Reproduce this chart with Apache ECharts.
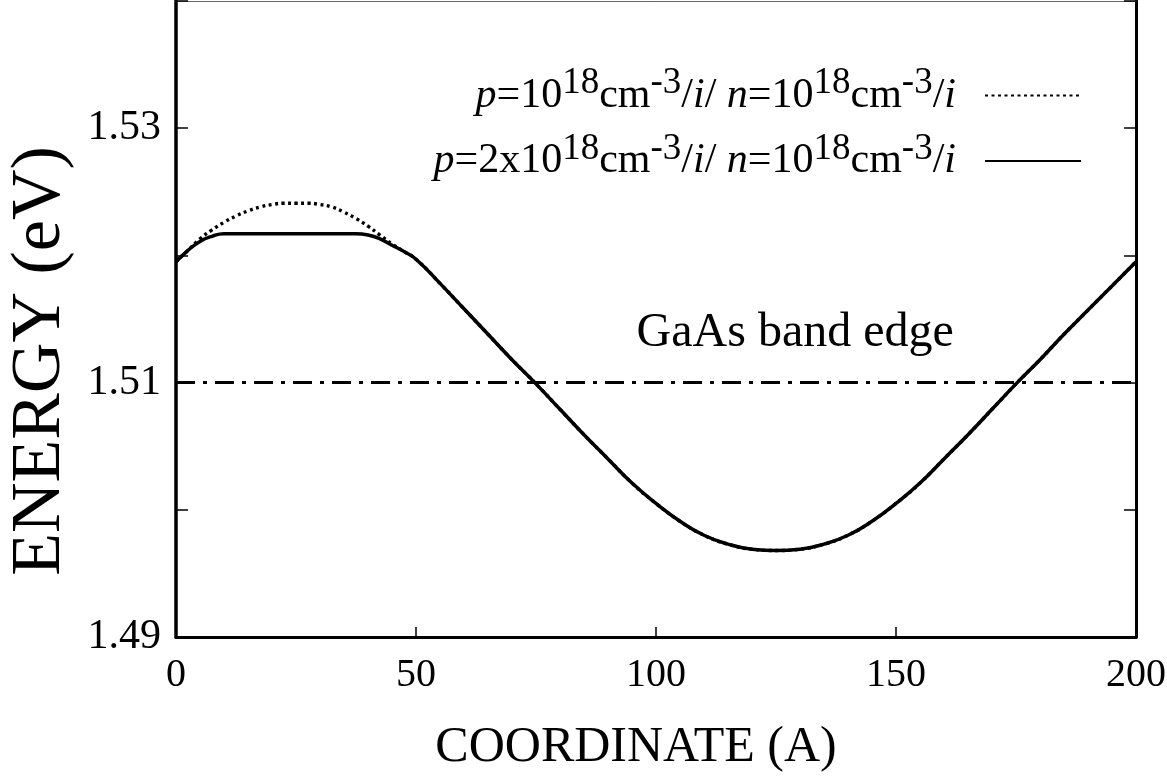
<!DOCTYPE html>
<html>
<head>
<meta charset="utf-8">
<script src="https://cdn.jsdelivr.net/npm/echarts@6/dist/echarts.min.js"></script>
<style>
html,body{margin:0;padding:0;background:#fff;}
#chart{width:1167px;height:780px;}
</style>
</head>
<body>
<div id="chart"></div>
<script>
// ---- data ----
const xTicks = [0, 50, 100, 150, 200];
const yTickLabels = ['1.49', '1.51', '1.53'];

const xLow = [0, 2.5, 5, 7.5, 10, 12.5, 15, 17.5, 20, 22.5, 25, 27.5, 30, 32.5, 35, 37.5, 40, 42.5, 45, 47.5];
const dottedLow = [1.5195, 1.5204, 1.5213, 1.5220, 1.5226, 1.5231, 1.5235, 1.5238, 1.5240, 1.5241, 1.5241, 1.5241, 1.5240, 1.5238, 1.5234, 1.5229, 1.5223, 1.5216, 1.5209, 1.5203];
const solidLow  = [1.5195, 1.5204, 1.5211, 1.5215, 1.5217, 1.5217, 1.5217, 1.5217, 1.5217, 1.5217, 1.5217, 1.5217, 1.5217, 1.5217, 1.5217, 1.5217, 1.5216, 1.5213, 1.5208, 1.5203];

const xHigh = [50, 55, 60, 65, 70, 75, 80, 85, 90, 95, 100, 105, 110, 115, 120, 125, 130, 135, 140, 145, 150, 155, 160, 165, 170, 175, 180, 185, 190, 195, 200];
const sharedHigh = [1.5197, 1.5178, 1.5158, 1.5138, 1.5118, 1.5099, 1.5079, 1.5059, 1.5040, 1.5021, 1.5005, 1.4991, 1.4980, 1.4973, 1.4969, 1.4968, 1.4969, 1.4973, 1.4980, 1.4991, 1.5005, 1.5021, 1.5040, 1.5059, 1.5079, 1.5099, 1.5118, 1.5138, 1.5157, 1.5176, 1.5195];

const bandEdgeX = [0, 200];
const bandEdgeY = [1.51, 1.51];

const seriesNames = ['p=1e18/i/n=1e18/i', 'p=2e18/i/n=1e18/i'];
const legendRich = {
  'p=1e18/i/n=1e18/i': '{it|p}{n|=10}{sup|18}{n|cm}{sup|-3}{n|/}{it|i}{n|/ }{it|n}{n|=10}{sup|18}{n|cm}{sup|-3}{n|/}{it|i}',
  'p=2e18/i/n=1e18/i': '{it|p}{n|=2x10}{sup|18}{n|cm}{sup|-3}{n|/}{it|i}{n|/ }{it|n}{n|=10}{sup|18}{n|cm}{sup|-3}{n|/}{it|i}'
};
// -------------------------------------

const FONT = "'Liberation Serif', 'Times New Roman', serif";
const pairs = (xs, ys) => xs.map((x, i) => [x, ys[i]]);
const dottedData = pairs(xLow, dottedLow).concat(pairs(xHigh, sharedHigh));
const solidData = pairs(xLow, solidLow).concat(pairs(xHigh, sharedHigh));

const chart = echarts.init(document.getElementById('chart'), null, {renderer: 'canvas'});
chart.setOption({
  animation: false,
  backgroundColor: '#fff',
  grid: {left: 176, right: 31, top: 1, bottom: 143, containLabel: false, outerBoundsMode: 'none'},
  legend: {
    data: seriesNames,
    orient: 'vertical',
    align: 'right',
    right: 80,
    top: 60,
    itemWidth: 96,
    itemHeight: 12,
    itemGap: 14,
    itemStyle: {color: 'rgba(0,0,0,0)', borderWidth: 0, opacity: 0},
    formatter: name => legendRich[name],
    textStyle: {
      padding: [0, 24, 0, 0],
      rich: {
        n: {fontFamily: FONT, fontSize: 42, color: '#000'},
        it: {fontFamily: FONT, fontSize: 42, fontStyle: 'italic', color: '#000'},
        sup: {fontFamily: FONT, fontSize: 37, color: '#000', padding: [0, 0, 24, 0]}
      }
    }
  },
  xAxis: [{
    type: 'value', min: 0, max: 200, interval: 50,
    axisLine: {show: true, onZero: false, lineStyle: {color: '#000', width: 3}},
    axisTick: {show: true, inside: true, length: 10, lineStyle: {color: '#000', width: 1.5}},
    axisLabel: {
      fontFamily: FONT, fontSize: 40, color: '#000', margin: 18,
      formatter: v => xTicks.indexOf(v) >= 0 ? String(v) : ''
    },
    splitLine: {show: false},
    name: 'COORDINATE (A)', nameLocation: 'middle', nameGap: 86,
    nameTextStyle: {fontFamily: FONT, fontSize: 50, color: '#000', padding: [0, 40, 0, 0]}
  }, {
    type: 'value', min: 0, max: 200, position: 'top',
    axisLine: {show: true, onZero: false, lineStyle: {color: '#666', width: 1}},
    axisTick: {show: false}, axisLabel: {show: false}, splitLine: {show: false}
  }],
  yAxis: [{
    type: 'value', min: 1.49, max: 1.54, interval: 0.01,
    axisLine: {show: true, onZero: false, lineStyle: {color: '#000', width: 3.5}},
    axisTick: {show: true, inside: true, length: 12, lineStyle: {color: '#000', width: 1.5}},
    axisLabel: {
      fontFamily: FONT, fontSize: 42, color: '#000', margin: 15,
      formatter: v => {
        const s = v.toFixed(2);
        return yTickLabels.indexOf(s) >= 0 ? s : '';
      }
    },
    splitLine: {show: false},
    name: 'ENERGY (eV)', nameLocation: 'middle', nameGap: 100,
    nameTextStyle: {fontFamily: FONT, fontSize: 70, color: '#000', padding: [0, 84, 0, 0]}
  }, {
    type: 'value', min: 1.49, max: 1.54, interval: 0.01, position: 'right',
    axisLine: {show: true, onZero: false, lineStyle: {color: '#000', width: 3}},
    axisTick: {show: true, inside: true, length: 12, lineStyle: {color: '#000', width: 1.5}},
    axisLabel: {show: false}, splitLine: {show: false}
  }],
  series: [{
    name: seriesNames[0], type: 'line', data: dottedData, smooth: 0.5,
    symbol: 'none', z: 3, itemStyle: {color: '#000'},
    lineStyle: {color: '#000', width: 3.4, type: [3, 3.5]}
  }, {
    name: seriesNames[1], type: 'line', data: solidData, smooth: 0.5,
    symbol: 'none', z: 4, itemStyle: {color: '#000'},
    lineStyle: {color: '#000', width: 3.5, type: 'solid'}
  }, {
    name: 'GaAs band edge', type: 'line', data: pairs(bandEdgeX, bandEdgeY),
    symbol: 'none', z: 2,
    lineStyle: {color: '#000', width: 3, type: [19, 8, 4, 8]},
    markPoint: {
      symbol: 'circle', symbolSize: 0,
      data: [{coord: [129, 1.5139], value: 'GaAs band edge'}],
      label: {show: true, position: 'inside', formatter: 'GaAs band edge',
              fontFamily: FONT, fontSize: 48, color: '#000'}
    }
  }]
});
</script>
</body>
</html>
